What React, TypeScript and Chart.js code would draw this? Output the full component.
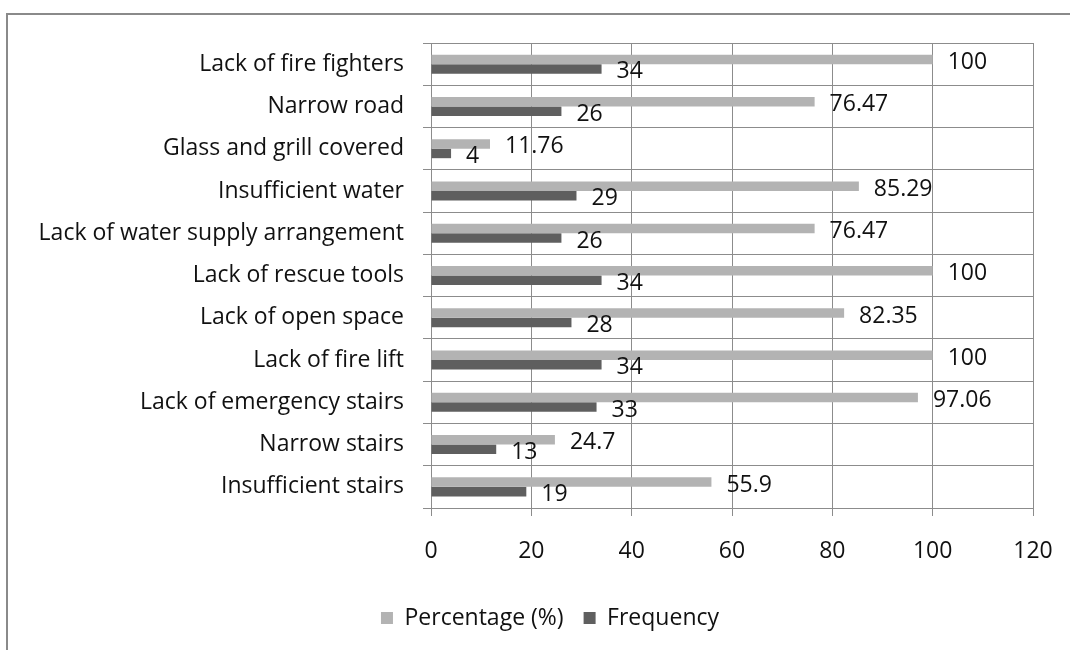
import React, { useEffect, useRef } from "react";
import { Chart, registerables } from "chart.js";

Chart.register(...registerables);

const categories = [
  "Lack of fire fighters",
  "Narrow road",
  "Glass and grill covered",
  "Insufficient water",
  "Lack of water supply arrangement",
  "Lack of rescue tools",
  "Lack of open space",
  "Lack of fire lift",
  "Lack of emergency stairs",
  "Narrow stairs",
  "Insufficient stairs",
];

const percentage = [100, 76.47, 11.76, 85.29, 76.47, 100, 82.35, 100, 97.06, 24.7, 55.9];
const frequency = [34, 26, 4, 29, 26, 34, 28, 34, 33, 13, 19];

const seriesNames = ["Percentage (%)", "Frequency"];
const xMin = 0;
const xMax = 120;
const xStep = 20;

const FONT = "'Open Sans', Lato, sans-serif";
const GRID = "#8c8c8c";
const TEXT = "#111";

export default function App() {
  const ref = useRef<HTMLCanvasElement>(null);

  useEffect(() => {
    if (!ref.current) return;
    const valueLabels = {
      id: "valueLabels",
      afterDatasetsDraw(chart: any) {
        const ctx = chart.ctx;
        ctx.save();
        ctx.font = `23px ${FONT}`;
        ctx.fillStyle = TEXT;
        ctx.textAlign = "left";
        ctx.textBaseline = "middle";
        chart.data.datasets.forEach((ds: any, di: number) => {
          const meta = chart.getDatasetMeta(di);
          meta.data.forEach((el: any, i: number) => {
            const p = el.getProps(["x", "y"], true);
            ctx.fillText(String(ds.data[i]), p.x + 15, p.y + 3);
          });
        });
        ctx.restore();
      },
    };
    // centre the legend under the whole figure like the reference
    const legendShift = {
      id: "legendShift",
      afterLayout(chart: any) {
        const lg = chart.legend;
        if (!lg) return;
        const dx = 550 - (lg.left + lg.right) / 2;
        lg.left += dx;
        lg.right += dx;
      },
    };

    const chart = new Chart(ref.current, {
      type: "bar",
      data: {
        labels: categories,
        datasets: [
          {
            label: seriesNames[0],
            data: percentage,
            backgroundColor: "#b3b3b3",
            borderWidth: 0,
            categoryPercentage: 0.45,
            barPercentage: 1.0,
          },
          {
            label: seriesNames[1],
            data: frequency,
            backgroundColor: "#5f5f5f",
            borderWidth: 0,
            categoryPercentage: 0.45,
            barPercentage: 1.0,
          },
        ],
      },
      options: {
        indexAxis: "y",
        responsive: false,
        animation: false,
        layout: { padding: { top: 43, right: 37, left: 0, bottom: 10.5 } },
        plugins: {
          legend: {
            position: "bottom",
            labels: {
              boxWidth: 12,
              boxHeight: 12,
              padding: 20,
              color: TEXT,
              font: { family: FONT, size: 23 },
            },
          },
          tooltip: { enabled: false },
        },
        scales: {
          x: {
            min: xMin,
            max: xMax,
            ticks: {
              stepSize: xStep,
              color: TEXT,
              padding: 22,
              font: { family: FONT, size: 23 },
            },
            grid: { color: GRID, tickLength: 8, lineWidth: 1 },
            border: { color: GRID, width: 1 },
            afterFit(scale: any) {
              scale.height = 78.5;
              scale.paddingLeft = 0;
              scale.paddingRight = 0;
            },
          },
          y: {
            ticks: {
              color: TEXT,
              padding: 19,
              autoSkip: false,
              font: { family: FONT, size: 23 },
            },
            grid: { color: GRID, tickLength: 8, lineWidth: 1, offset: true },
            border: { color: GRID, width: 1 },
            afterFit(scale: any) {
              scale.width = 431;
            },
          },
        },
      },
      plugins: [valueLabels, legendShift],
    } as any);

    return () => chart.destroy();
  }, []);

  return (
    <div
      style={{
        position: "absolute",
        left: 0,
        top: 0,
        width: 1070,
        height: 650,
        overflow: "hidden",
        background: "#fff",
      }}
    >
      <div
        style={{
          position: "absolute",
          left: 6,
          top: 13,
          width: 1100,
          height: 700,
          borderLeft: "2px solid #8a8a8a",
          borderTop: "2px solid #8a8a8a",
        }}
      />
      <canvas
        ref={ref}
        width={1070}
        height={650}
        style={{ position: "absolute", left: 0, top: 0, width: 1070, height: 650 }}
      />
    </div>
  );
}
